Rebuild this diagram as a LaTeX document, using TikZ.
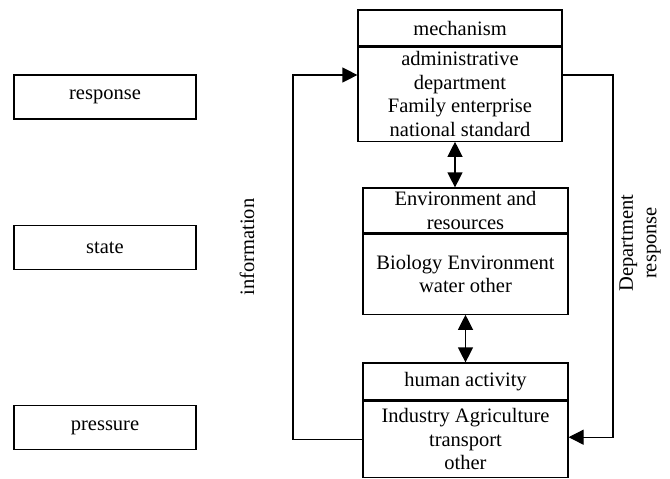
\documentclass[tikz,border=0pt]{standalone}
\usepackage{fontspec}
\setmainfont{Liberation Serif}
\usetikzlibrary{arrows.meta}

\begin{document}
\begin{tikzpicture}[x=1pt,y=-1pt,
  box/.style={draw, line width=1.2pt, align=center, inner sep=0pt,
    font=\fontsize{20.5}{23.5}\selectfont},
  label/.style={align=center, rotate=90, font=\fontsize{20.5}{23.5}\selectfont},
  link/.style={line width=1.2pt, -{Triangle[length=15pt,width=15pt]}},
  both/.style={line width=1.2pt,
    {Triangle[length=15pt,width=15pt]}-{Triangle[length=15pt,width=15pt]}}]

\useasboundingbox (0,0) rectangle (670,479);

% left column
\node[box, minimum width=182pt, minimum height=44pt] (response) at (105,97) {response};
\node[box, minimum width=182pt, minimum height=44pt] (state) at (105,247.5) {state};
\node[box, minimum width=182pt, minimum height=44pt] (pressure) at (105,427.5) {pressure};

% mechanism
\node[box, minimum width=204pt, minimum height=36pt] (mechHead) at (460,28) {mechanism};
\node[box, anchor=north, minimum width=204pt, minimum height=94pt] (mechBody)
  at (mechHead.south) {administrative\\department\\Family enterprise\\national standard};

% environment
\node[box, minimum width=205pt, minimum height=45pt] (envHead) at (465.5,210.5)
  {Environment and\\resources};
\node[box, anchor=north, minimum width=205pt, minimum height=80pt] (envBody)
  at (envHead.south) {Biology Environment\\water other};

% human activity
\node[box, minimum width=205pt, minimum height=37pt] (humanHead) at (465.5,381.5) {human activity};
\node[box, anchor=north, minimum width=205pt, minimum height=76pt] (humanBody)
  at (humanHead.south) {Industry Agriculture\\transport\\other};

% loops
\coordinate (infoTurn) at (293,75);
\coordinate (respTurn) at (613,75);
\draw[link] (humanBody.west) -| (infoTurn) -- (mechBody.west |- infoTurn);
\draw[link] (mechBody.east |- respTurn) -- (respTurn) |- ([yshift=2pt]humanBody.east);

\draw[both] ([xshift=-5pt]mechBody.south) -- ([xshift=-5pt]mechBody.south |- envHead.north);
\draw[both] (envBody.south) -- (humanHead.north);

\node[label] (info) at (247,247) {information};
\node[label] (dept) at (640,243) {Department\\response};

\end{tikzpicture}
\end{document}
